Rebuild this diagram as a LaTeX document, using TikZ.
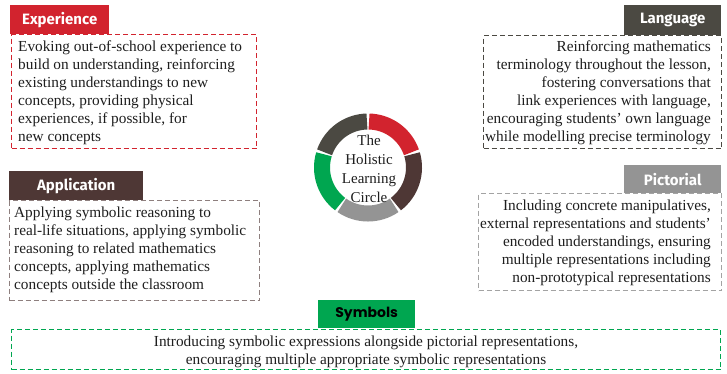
\documentclass[tikz,border=0pt]{standalone}
\usepackage{fontspec}
\usetikzlibrary{calc}
\setmainfont{Liberation Serif}
\newfontfamily\labelfont{Fira Sans}
\newfontfamily\symfont{Poppins}
\definecolor{expred}{HTML}{D2232E}
\definecolor{appbrown}{HTML}{4E3735}
\definecolor{langgray}{HTML}{4B4942}
\definecolor{pictgray}{HTML}{949494}
\definecolor{symgreen}{HTML}{00A650}
\definecolor{appdash}{HTML}{8E7F7E}
\definecolor{pictdash}{HTML}{A3A3A3}
\definecolor{txt}{HTML}{1E1E1E}
\begin{document}
\begin{tikzpicture}[x=1pt,y=-1pt,
  labelbox/.style={fill=#1, text=white, inner sep=0pt, anchor=north west,
    font=\labelfont\bfseries\fontsize{15}{18}\selectfont},
  dashbox/.style={draw=#1, line width=1.3pt, dash pattern=on 5pt off 3pt, inner sep=0pt, anchor=north west},
  bodytext/.style={text=txt, inner sep=0pt, font=\fontsize{15.3}{18}\selectfont},
  ring/.style={line width=16pt}
]
\useasboundingbox[fill=white] (0,0) rectangle (727,373);

% Experience
\node[dashbox=expred, minimum width=245pt, minimum height=114pt] (expbox) at (11,34) {};
\node[labelbox=expred, minimum width=99pt, minimum height=29pt] (explabel) at (10,5) {Experience};
\node[bodytext, anchor=north west, align=left] (exptext) at (18,41)
  {Evoking out-of-school experience to\\build on understanding, reinforcing\\existing understandings to new\\concepts, providing physical\\experiences, if possible, for\\new concepts};

% Language
\node[dashbox=langgray, minimum width=238pt, minimum height=113pt] (langbox) at (483,35) {};
\node[labelbox=langgray, minimum width=97pt, minimum height=30pt] (langlabel) at (624,5) {Language};
\node[bodytext, anchor=north east, align=right] (langtext) at (711,41)
  {Reinforcing mathematics\\terminology throughout the lesson,\\fostering conversations that\\link experiences with language,\\encouraging students’ own language\\while modelling precise terminology};

% Application
\node[dashbox=appdash, minimum width=250pt, minimum height=100pt] (appbox) at (9,200) {};
\node[labelbox=appbrown, minimum width=134pt, minimum height=29pt] (applabel) at (9,171) {Application};
\node[bodytext, anchor=north west, align=left] (apptext) at (14,207)
  {Applying symbolic reasoning to\\real-life situations, applying symbolic\\reasoning to related mathematics\\concepts, applying mathematics\\concepts outside the classroom};

% Pictorial
\node[dashbox=pictdash, minimum width=243pt, minimum height=97pt] (pictbox) at (478,193) {};
\node[labelbox=pictgray, minimum width=97pt, minimum height=28pt] (pictlabel) at (624,165) {Pictorial};
\node[bodytext, anchor=north east, align=right] (picttext) at (711,200)
  {Including concrete manipulatives,\\external representations and students’\\encoded understandings, ensuring\\multiple representations including\\non-prototypical representations};

% Symbols
\node[dashbox=symgreen, minimum width=709pt, minimum height=40pt] (symbox) at (11,329) {};
\node[fill=symgreen, text=black, inner sep=0pt, anchor=north west, minimum width=97pt, minimum height=28pt,
  font=\symfont\bfseries\fontsize{14}{17}\selectfont] (symlabel) at (318,300) {Symbols};
\node[bodytext, align=center] (symtext) at (366,351.5)
  {Introducing symbolic expressions alongside pictorial representations,\\encouraging multiple appropriate symbolic representations};

% Ring
\coordinate (c) at (368,167.5);
\foreach \a/\col in {90/expred, 18/appbrown, -54/pictgray, -126/symgreen, 162/langgray}{
  \draw[ring, draw=\col] ($(c)+(\a-1.3:46pt)$) arc[start angle=\a-1.3, end angle=\a-70.7, radius=46pt];
}
\node[text=txt, inner sep=0pt, align=center, font=\fontsize{15}{19}\selectfont] (ctext) at (369,168.5)
  {The\\Holistic\\Learning\\Circle};
\end{tikzpicture}
\end{document}
